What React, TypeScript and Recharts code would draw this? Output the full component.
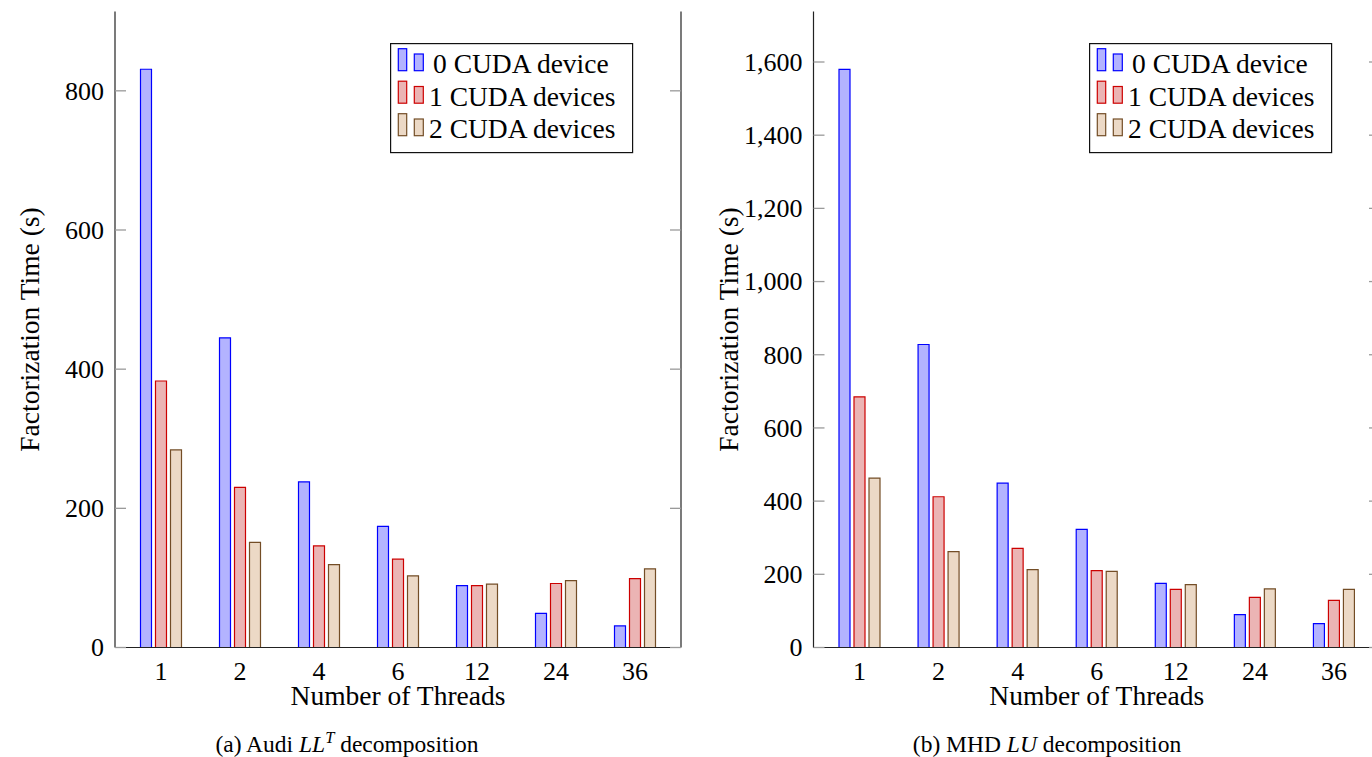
import React from 'react';
import { BarChart, Bar, XAxis, YAxis, Legend } from 'recharts';

const threads = ['1', '2', '4', '6', '12', '24', '36'];
const seriesNames = ['0 CUDA device', '1 CUDA devices', '2 CUDA devices'];

const audi0 = [831, 445, 238, 174, 89, 49, 31];
const audi1 = [383, 230, 146, 127, 89, 92, 99];
const audi2 = [284, 151, 119, 103, 91, 96, 113];
const audiTicks = [0, 200, 400, 600, 800];
const audiMax = 914;

const mhd0 = [1580, 828, 449, 323, 175, 90, 65];
const mhd1 = [685, 412, 271, 210, 159, 137, 129];
const mhd2 = [463, 262, 213, 208, 172, 160, 159];
const mhdTicks = [0, 200, 400, 600, 800, 1000, 1200, 1400, 1600];
const mhdMax = 1738;

const strokes = ['#0000ff', '#cc0000', '#734d26'];
const fills = ['#b3b3ff', '#ebb4b4', '#ecd9c6'];

const FONT = '"Liberation Serif", "Times New Roman", serif';
const TICK_FS = 26;
const LABEL_FS = 27.5;
const CAPTION_FS = 23.5;

const fmt = (v: number) => v.toLocaleString('en-US');

function buildData(a: number[], b: number[], c: number[]) {
  return threads.map((t, i) => ({ t, s0: a[i], s1: b[i], s2: c[i] }));
}

const LeftTick = (props: any) => {
  const { x, y, payload } = props;
  const ax = x + 11;
  return (
    <g>
      <line x1={ax} x2={ax + 11} y1={y} y2={y} stroke="#9a9a9a" strokeWidth={1.3} />
      <text x={x} y={y} dy="0.34em" textAnchor="end" fontSize={TICK_FS} fontFamily={FONT} fill="#000">
        {fmt(payload.value)}
      </text>
    </g>
  );
};

const RightTick = (props: any) => {
  const { x, y } = props;
  return <line x1={x - 11} x2={x} y1={y} y2={y} stroke="#9a9a9a" strokeWidth={1.3} />;
};

const YLabel = (props: any) => {
  const vb = props.viewBox || { x: 0, y: 0, width: 0, height: 0 };
  const bx = vb.x + vb.width - 76;
  const cy = vb.y + vb.height / 2;
  return (
    <text transform={`translate(${bx},${cy}) rotate(-90)`} textAnchor="middle" fontSize={LABEL_FS} fontFamily={FONT} fill="#000">
      Factorization Time (s)
    </text>
  );
};

const XLabel = (props: any) => {
  const vb = props.viewBox || { x: 0, y: 0, width: 0, height: 0 };
  return (
    <text x={vb.x + vb.width / 2} y={vb.y + 57} textAnchor="middle" fontSize={LABEL_FS} fontFamily={FONT} fill="#000">
      Number of Threads
    </text>
  );
};

const LegendBox = () => {
  const rowStep = 32.5;
  return (
    <svg width={244} height={111} style={{ display: 'block', overflow: 'visible' }}>
      <rect x={0.6} y={0.6} width={242} height={109} fill="#fff" stroke="#111" strokeWidth={1.2} />
      {seriesNames.map((name, i) => {
        const bottom = 27.7 + rowStep * i;
        const base = 30 + rowStep * i;
        return (
          <g key={name}>
            <rect x={8.3} y={bottom - 22} width={8.4} height={22} fill={fills[i]} stroke={strokes[i]} strokeWidth={1.2} />
            <rect x={24.3} y={bottom - 16.7} width={9} height={16.7} fill={fills[i]} stroke={strokes[i]} strokeWidth={1.2} />
            <text x={i === 0 ? 43 : 39} y={base} fontSize={LABEL_FS} fontFamily={FONT} fill="#000">
              {name}
            </text>
          </g>
        );
      })}
    </svg>
  );
};

type PanelProps = {
  left: number;
  data: any[];
  ticks: number[];
  max: number;
  yw: number;
  rw: number;
  caption: React.ReactNode;
};

function Panel({ left, data, ticks, max, yw, rw, caption }: PanelProps) {
  const axisLine = { stroke: '#222', strokeWidth: 1.2 };
  return (
    <div style={{ position: 'absolute', left, top: 0, width: 700, height: 757 }}>
      <BarChart
        width={700}
        height={757}
        data={data}
        margin={{ top: 11.5, right: 0, left: 0, bottom: 0 }}
        barSize={11}
        barGap={4}
      >
        <XAxis
          dataKey="t"
          height={109.5}
          padding={{ left: 6.5, right: 6.5 }}
          tickLine={false}
          tickSize={0}
          tickMargin={14}
          interval={0}
          axisLine={axisLine}
          tick={{ fontSize: TICK_FS, fill: '#000', fontFamily: FONT }}
          label={<XLabel />}
        />
        <XAxis xAxisId="top" orientation="top" dataKey="t" height={0} tick={false} tickLine={false} axisLine={axisLine} />
        <YAxis
          width={yw}
          type="number"
          domain={[0, max]}
          ticks={ticks}
          interval={0}
          allowDataOverflow
          tickLine={false}
          tickSize={0}
          tickMargin={11}
          axisLine={axisLine}
          tick={<LeftTick />}
          label={<YLabel />}
        />
        <YAxis
          yAxisId="r"
          orientation="right"
          width={rw}
          type="number"
          domain={[0, max]}
          ticks={ticks}
          interval={0}
          allowDataOverflow
          tickLine={false}
          tickSize={0}
          tickMargin={0}
          axisLine={axisLine}
          tick={<RightTick />}
        />
        {['s0', 's1', 's2'].map((k, i) => (
          <Bar
            key={k}
            dataKey={k}
            name={seriesNames[i]}
            fill={fills[i]}
            stroke={strokes[i]}
            strokeWidth={1.2}
            isAnimationActive={false}
          />
        ))}
        <Legend
          layout="horizontal"
          verticalAlign="middle"
          align="center"
          content={<LegendBox />}
          wrapperStyle={{ left: yw + 275, top: 43.3, width: 244, height: 111 }}
        />
      </BarChart>
      <svg width={700} height={757} style={{ position: 'absolute', left: 0, top: 0, pointerEvents: 'none' }}>
        <text x={347} y={752} textAnchor="middle" fontSize={CAPTION_FS} fontFamily={FONT} fill="#000">
          {caption}
        </text>
      </svg>
    </div>
  );
}

export default function App() {
  const audiData = buildData(audi0, audi1, audi2);
  const mhdData = buildData(mhd0, mhd1, mhd2);
  return (
    <div style={{ position: 'fixed', left: 0, top: 0, width: 1372, height: 757, overflow: 'hidden', background: '#fff' }}>
      <Panel
        left={0}
        data={audiData}
        ticks={audiTicks}
        max={audiMax}
        yw={115}
        rw={19}
        caption={
          <>
            <tspan>(a) Audi </tspan>
            <tspan fontStyle="italic">LL</tspan>
            <tspan fontStyle="italic" fontSize={16.5} dy={-9}>T</tspan>
            <tspan dy={9}> decomposition</tspan>
          </>
        }
      />
      <Panel
        left={700}
        data={mhdData}
        ticks={mhdTicks}
        max={mhdMax}
        yw={113.5}
        rw={20}
        caption={
          <>
            <tspan>(b) MHD </tspan>
            <tspan fontStyle="italic">LU</tspan>
            <tspan> decomposition</tspan>
          </>
        }
      />
    </div>
  );
}
